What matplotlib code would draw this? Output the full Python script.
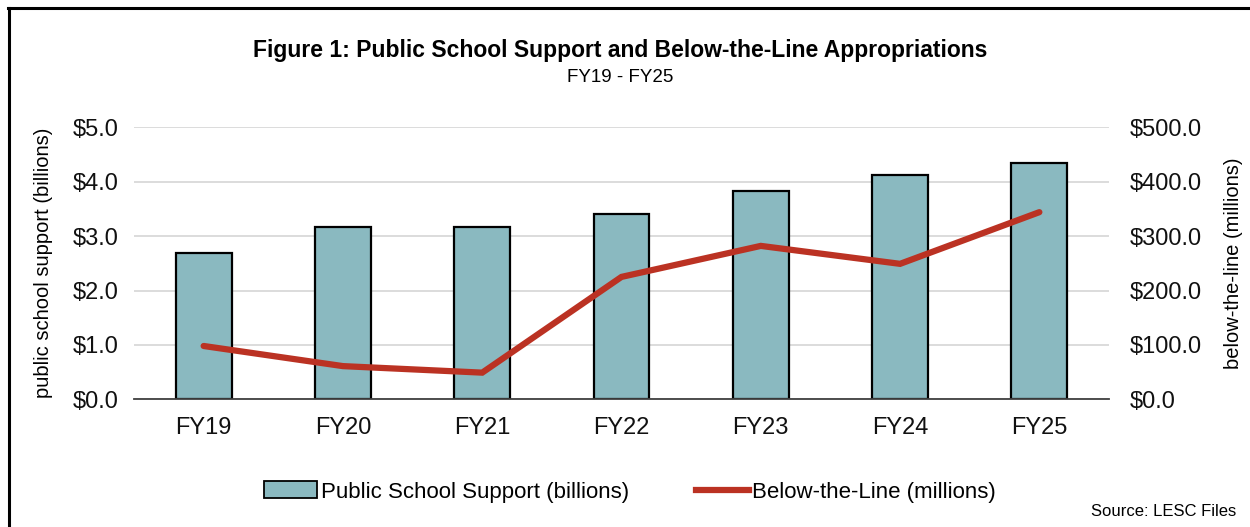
import matplotlib
matplotlib.use("Agg")
import matplotlib.pyplot as plt
from matplotlib.lines import Line2D
from matplotlib.patches import Patch
from matplotlib.ticker import FuncFormatter

categories = ["FY19", "FY20", "FY21", "FY22", "FY23", "FY24", "FY25"]
school_support = [2.69, 3.17, 3.17, 3.41, 3.82, 4.12, 4.34]   # billions
below_the_line = [98, 61, 49, 225, 282, 249, 344]              # millions

plt.rcParams['font.family'] = ['Liberation Sans', 'DejaVu Sans']

W, H = 1250, 527
fig = plt.figure(figsize=(W / 100, H / 100), dpi=100)
fig.patch.set_facecolor("white")

left, right = 134 / W, 1109 / W
bottom, top = 1 - 399.3 / H, 1 - 127.3 / H
ax = fig.add_axes([left, bottom, right - left, top - bottom])
ax2 = ax.twinx()

x = list(range(len(categories)))
ax.bar(x, school_support, width=0.4, color="#8ab9c0", edgecolor="black",
       linewidth=1.6, zorder=3)
ax.set_xlim(-0.5, len(categories) - 0.5)
ax.set_ylim(0, 5)
ax.set_yticks([0, 1, 2, 3, 4, 5])
ax.yaxis.set_major_formatter(FuncFormatter(lambda v, p: f"${v:.1f}"))
ax.set_xticks(x)
ax.set_xticklabels(categories)
ax.grid(axis="y", color="#d9d9d9", linewidth=1.3, zorder=0)
ax.set_axisbelow(True)
for s in ["top", "right", "left"]:
    ax.spines[s].set_visible(False)
ax.spines["bottom"].set_color("#404040")
ax.spines["bottom"].set_linewidth(1.3)
ax.spines["bottom"].set_zorder(4)
ax.tick_params(axis="both", length=0, labelsize=17, colors="#111111")
ax.tick_params(axis="x", pad=13)
ax.tick_params(axis="y", pad=11)
ax.set_ylabel("public school support (billions)", fontsize=14.5, labelpad=14)

ax2.plot(x, below_the_line, color="#bb3223", linewidth=4.5,
         solid_capstyle="round", solid_joinstyle="miter", zorder=5)
ax2.set_ylim(0, 500)
ax2.set_yticks([0, 100, 200, 300, 400, 500])
ax2.yaxis.set_major_formatter(FuncFormatter(lambda v, p: f"${v:.1f}"))
for s in ["top", "right", "left", "bottom"]:
    ax2.spines[s].set_visible(False)
ax2.tick_params(axis="y", length=0, labelsize=17, colors="#111111", pad=15)
ax2.set_ylabel("below-the-line (millions)", fontsize=14.5, labelpad=16)

fig.text(620 / W, 1 - 50 / H, "Figure 1: Public School Support and Below-the-Line Appropriations",
         ha="center", va="center", fontsize=16.5, fontweight="bold")
fig.text(620 / W, 1 - 78 / H, "FY19 - FY25", ha="center", va="center", fontsize=13.5)

handles = [Patch(facecolor="#8ab9c0", edgecolor="black", linewidth=1.3,
                 label="Public School Support (billions)"),
           Line2D([0], [0], color="#bb3223", linewidth=4.5,
                  label="Below-the-Line (millions)")]
fig.legend(handles=handles, loc="center", bbox_to_anchor=(630 / W, 1 - 492 / H),
           ncol=2, frameon=False, fontsize=16, handlelength=2.4, handleheight=0.8,
           handletextpad=0.15, columnspacing=3.0)

fig.text(1236 / W, 1 - 511 / H, "Source: LESC Files", ha="right", va="center",
         fontsize=12)

# frame lines (top and left visible in reference)
fig.add_artist(Line2D([8 / W, 1.0], [1 - 8 / H, 1 - 8 / H], color="black", linewidth=2.2,
                      transform=fig.transFigure))
fig.add_artist(Line2D([9 / W, 9 / W], [0, 1 - 8 / H], color="black", linewidth=2.2,
                      transform=fig.transFigure))

fig.savefig("out.png", dpi=100, facecolor="white")
